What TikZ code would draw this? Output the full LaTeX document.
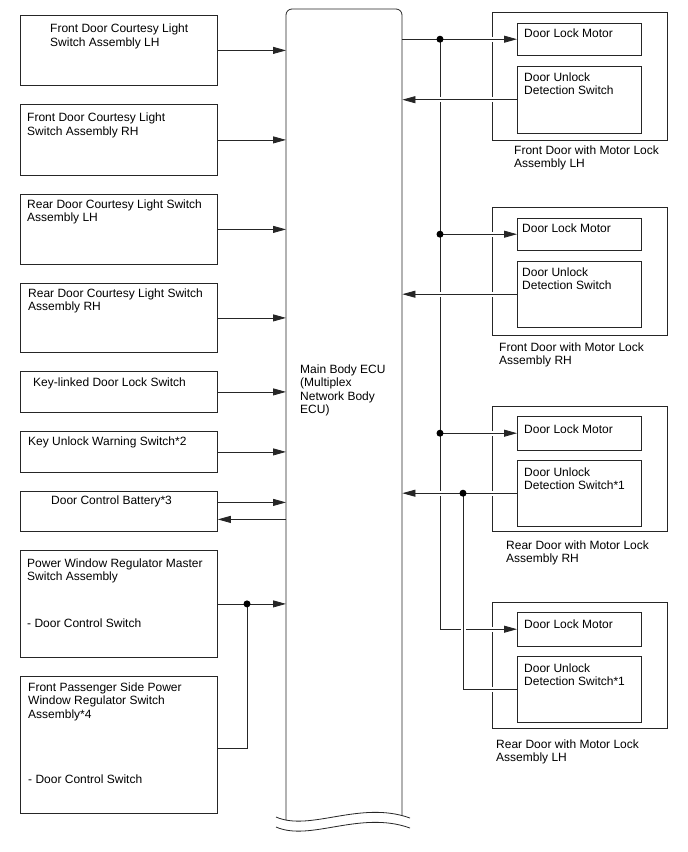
\documentclass[tikz,border=0pt]{standalone}
\usepackage{fontspec}
\setmainfont{Liberation Sans}
\usetikzlibrary{arrows.meta}
\newcommand{\fs}{\rule{0pt}{10pt}}
\begin{document}
\begin{tikzpicture}[x=1pt,y=-1pt,
  box/.style={draw=black!85, line width=0.8pt, inner sep=0pt, anchor=north west},
  txt/.style={anchor=north west, inner sep=0pt, align=left, font=\fontsize{12}{13.5}\selectfont},
  ln/.style={draw=black!85, line width=0.8pt},
  arr/.style={ln, -{Triangle[length=13pt,width=7pt]}},
  gap/.style={preaction={draw=white, line width=5pt, -}},
  dot/.style={circle, fill=black, inner sep=0pt, minimum size=7pt}]
\useasboundingbox[fill=white] (0,0) rectangle (688,852);

% ECU anchor node
\node[inner sep=0pt, minimum width=116pt, minimum height=809pt, anchor=north west] (ecu) at (286,9) {};
\coordinate (busx) at (440,0);
\coordinate (bustwo) at (463,0);
\coordinate (jx) at (247,0);

% left boxes
\node[box, minimum width=197pt, minimum height=70pt] (b1) at (20,15) {};
\node[box, minimum width=197pt, minimum height=71pt] (b2) at (20,104) {};
\node[box, minimum width=197pt, minimum height=70pt] (b3) at (20,194) {};
\node[box, minimum width=197pt, minimum height=69pt] (b4) at (20,283) {};
\node[box, minimum width=197pt, minimum height=41pt] (b5) at (20,371) {};
\node[box, minimum width=197pt, minimum height=41pt] (b6) at (20,431) {};
\node[box, minimum width=197pt, minimum height=40pt] (b7) at (20,491) {};
\node[box, minimum width=197pt, minimum height=107pt] (b8) at (20,550) {};
\node[box, minimum width=197pt, minimum height=137pt] (b9) at (20,676) {};

% outer right boxes
\node[box, minimum width=175pt, minimum height=128pt] (oA) at (492,12) {};
\node[box, minimum width=175pt, minimum height=128pt] (oB) at (492,207) {};
\node[box, minimum width=175pt, minimum height=125pt] (oC) at (492,406) {};
\node[box, minimum width=175pt, minimum height=126pt] (oD) at (492,602) {};

% inner anchor nodes (drawn later)
\node[inner sep=0pt, anchor=north west, minimum width=124pt, minimum height=31pt] (mA) at (517,23.5) {};
\node[inner sep=0pt, anchor=north west, minimum width=124pt, minimum height=67pt] (sA) at (517,66) {};
\node[inner sep=0pt, anchor=north west, minimum width=124pt, minimum height=32pt] (mB) at (517,218) {};
\node[inner sep=0pt, anchor=north west, minimum width=124pt, minimum height=66pt] (sB) at (517,261) {};
\node[inner sep=0pt, anchor=north west, minimum width=124pt, minimum height=33pt] (mC) at (517,416.5) {};
\node[inner sep=0pt, anchor=north west, minimum width=124pt, minimum height=66pt] (sC) at (517,460) {};
\node[inner sep=0pt, anchor=north west, minimum width=124pt, minimum height=33pt] (mD) at (517,612.5) {};
\node[inner sep=0pt, anchor=north west, minimum width=124pt, minimum height=66pt] (sD) at (517,656) {};

% left connectors
\draw[arr] (b1.east) -- (b1.east -| ecu.west);
\draw[arr] (b2.east) -- (b2.east -| ecu.west);
\draw[arr] (b3.east) -- (b3.east -| ecu.west);
\draw[arr] (b4.east) -- (b4.east -| ecu.west);
\draw[arr] (b5.east) -- (b5.east -| ecu.west);
\draw[arr] (b6.east) -- (b6.east -| ecu.west);
\draw[arr] ([yshift=9pt]b7.east) -- ([yshift=9pt]b7.east -| ecu.west);
\draw[arr] ([yshift=-8pt]b7.east -| ecu.west) -- ([yshift=-8pt]b7.east);
\draw[arr] (b8.east) -- (b8.east -| ecu.west);
\draw[ln] ([yshift=-3pt]b9.east) -- ([yshift=-3pt]b9.east -| jx) -- (b8.east -| jx);
\node[dot] (jdot) at (b8.east -| jx) {};

% right bus
\draw[arr, gap] (mA.west -| busx) -- (mD.west -| busx) -- (mD.west);
\draw[arr, gap] (mA.west -| ecu.east) -- (mA.west);
\draw[arr, gap] (sA.west) -- (sA.west -| ecu.east);
\draw[arr, gap] (mB.west -| busx) -- (mB.west);
\draw[arr, gap] (sB.west) -- (sB.west -| ecu.east);
\draw[arr, gap] (mC.west -| busx) -- (mC.west);
\draw[arr, gap] (sC.west) -- (sC.west -| ecu.east);
\draw[ln, gap] (sC.west -| bustwo) -- (sD.west -| bustwo) -- (sD.west);

% inner boxes
\foreach \n in {mA,sA,mB,sB,mC,sC,mD,sD}{
  \draw[ln] (\n.north west) rectangle (\n.south east);
}

% dots
\node[dot] (dA) at (mA.west -| busx) {};
\node[dot] (dB) at (mB.west -| busx) {};
\node[dot] (dC) at (mC.west -| busx) {};
\node[dot] (dS) at (sC.west -| bustwo) {};

% ECU outline
\draw[ln, rounded corners=6pt] (286,820) -- (286,9) -- (402,9) -- (402,815.5);
\draw[ln] (276,817) .. controls (310,832) and (360,800) .. (410,818);
\draw[ln] (276,827) .. controls (310,842) and (360,810) .. (410,828);

% texts
\node[txt] (t1) at (50,22.5) {\fs Front Door Courtesy Light\\Switch Assembly LH};
\node[txt] (t2) at (27,111.5) {\fs Front Door Courtesy Light\\Switch Assembly RH};
\node[txt] (t3) at (27,198) {\fs Rear Door Courtesy Light Switch\\Assembly LH};
\node[txt] (t4) at (28,287) {\fs Rear Door Courtesy Light Switch\\Assembly RH};
\node[txt] (t5) at (33,376) {\fs Key-linked Door Lock Switch};
\node[txt] (t6) at (28,435) {\fs Key Unlock Warning Switch*2};
\node[txt] (t7) at (51,494) {\fs Door Control Battery*3};
\node[txt] (t8) at (27,557) {\fs Power Window Regulator Master\\Switch Assembly};
\node[txt] (t8b) at (27,617) {\fs - Door Control Switch};
\node[txt] (t9) at (28,681) {\fs Front Passenger Side Power\\Window Regulator Switch\\Assembly*4};
\node[txt] (t9b) at (28,773) {\fs - Door Control Switch};
\node[txt] (tecu) at (300,363) {\fs Main Body ECU\\(Multiplex\\Network Body\\ECU)};

\node[txt] (tmA) at (524,27.5) {\fs Door Lock Motor};
\node[txt] (tsA) at (524,71) {\fs Door Unlock\\Detection Switch};
\node[txt] (tmB) at (522,222) {\fs Door Lock Motor};
\node[txt] (tsB) at (522,266) {\fs Door Unlock\\Detection Switch};
\node[txt] (tmC) at (524,423) {\fs Door Lock Motor};
\node[txt] (tsC) at (524,466) {\fs Door Unlock\\Detection Switch*1};
\node[txt] (tmD) at (524,618) {\fs Door Lock Motor};
\node[txt] (tsD) at (524,662) {\fs Door Unlock\\Detection Switch*1};

\node[txt] (lA) at (514,144) {\fs Front Door with Motor Lock\\Assembly LH};
\node[txt] (lB) at (499,341) {\fs Front Door with Motor Lock\\Assembly RH};
\node[txt] (lC) at (506,539) {\fs Rear Door with Motor Lock\\Assembly RH};
\node[txt] (lD) at (496,738) {\fs Rear Door with Motor Lock\\Assembly LH};
\end{tikzpicture}
\end{document}
